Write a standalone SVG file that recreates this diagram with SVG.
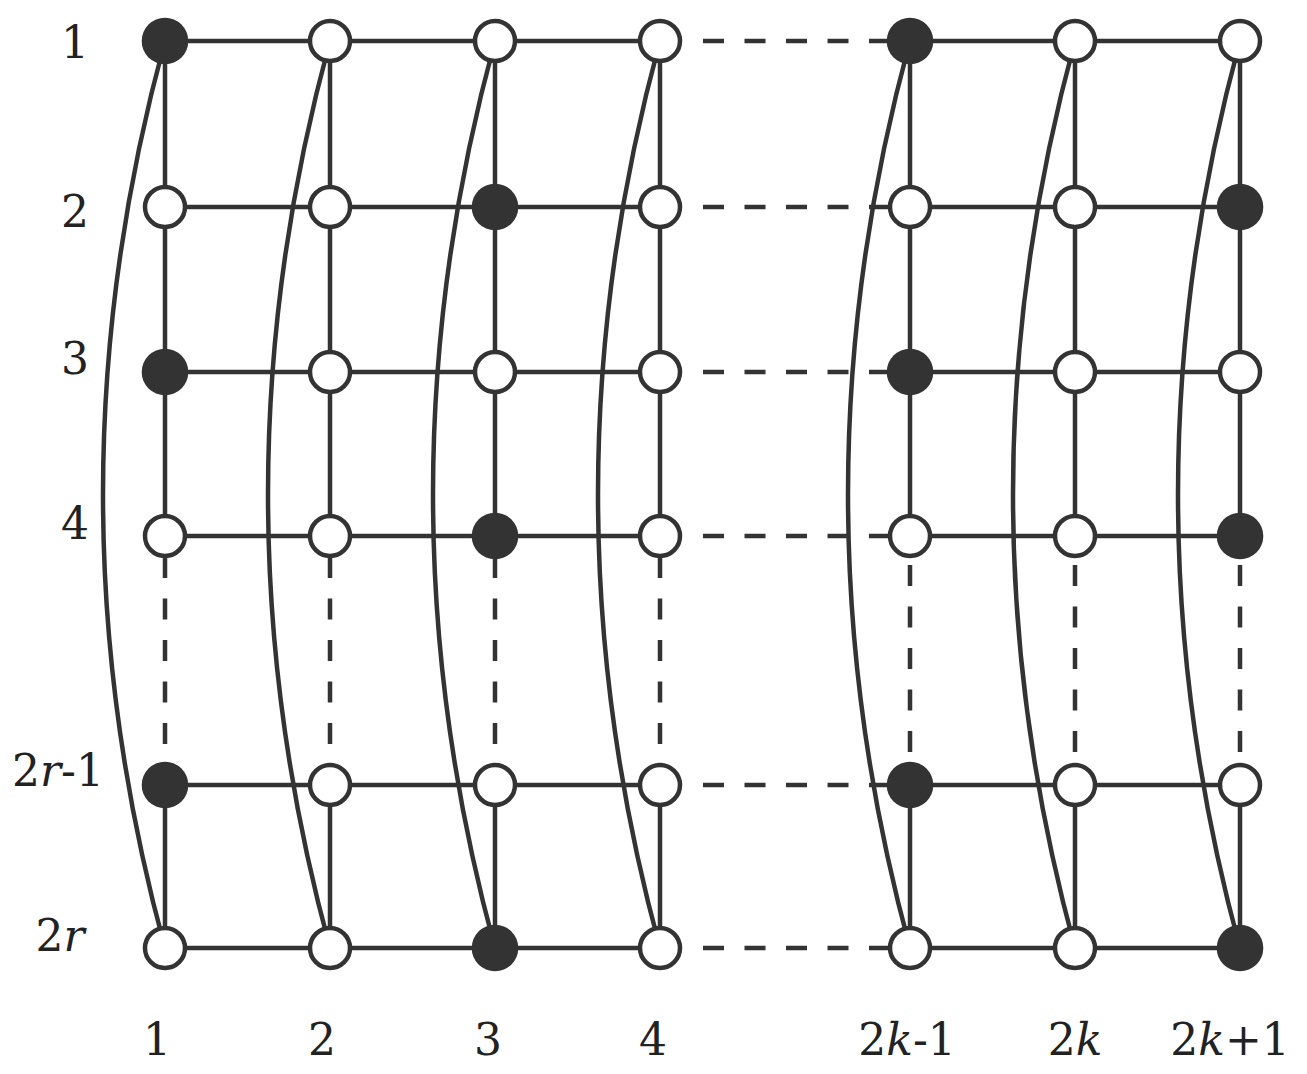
<svg xmlns="http://www.w3.org/2000/svg" width="1307" height="1074" viewBox="0 0 1307 1074">
<style>
.e{stroke:#333;stroke-width:4.5;fill:none}
.d{stroke:#333;stroke-width:4.5;fill:none;stroke-dasharray:21 20.5}
.o{fill:#fff;stroke:#333;stroke-width:4.5}
.f{fill:#333}
.t{font-family:"DejaVu Serif",serif;font-size:44px;fill:#222;text-anchor:middle}
</style>
<rect width="1307" height="1074" fill="#fff"/>
<g id="connectors">
<path class="e" d="M165,41 Q41,494.5 165,948"/>
<path class="e" d="M330,41 Q206,494.5 330,948"/>
<path class="e" d="M495,41 Q371,494.5 495,948"/>
<path class="e" d="M660,41 Q536,494.5 660,948"/>
<path class="e" d="M910,41 Q786,494.5 910,948"/>
<path class="e" d="M1075,41 Q951,494.5 1075,948"/>
<path class="e" d="M1240,41 Q1116,494.5 1240,948"/>
<line class="e" x1="165" y1="41" x2="330" y2="41"/><line class="e" x1="330" y1="41" x2="495" y2="41"/><line class="e" x1="495" y1="41" x2="660" y2="41"/><line class="d" x1="703" y1="41" x2="890" y2="41"/><line class="e" x1="910" y1="41" x2="1075" y2="41"/><line class="e" x1="1075" y1="41" x2="1240" y2="41"/>
<line class="e" x1="165" y1="207" x2="330" y2="207"/><line class="e" x1="330" y1="207" x2="495" y2="207"/><line class="e" x1="495" y1="207" x2="660" y2="207"/><line class="d" x1="703" y1="207" x2="890" y2="207"/><line class="e" x1="910" y1="207" x2="1075" y2="207"/><line class="e" x1="1075" y1="207" x2="1240" y2="207"/>
<line class="e" x1="165" y1="372" x2="330" y2="372"/><line class="e" x1="330" y1="372" x2="495" y2="372"/><line class="e" x1="495" y1="372" x2="660" y2="372"/><line class="d" x1="703" y1="372" x2="890" y2="372"/><line class="e" x1="910" y1="372" x2="1075" y2="372"/><line class="e" x1="1075" y1="372" x2="1240" y2="372"/>
<line class="e" x1="165" y1="536" x2="330" y2="536"/><line class="e" x1="330" y1="536" x2="495" y2="536"/><line class="e" x1="495" y1="536" x2="660" y2="536"/><line class="d" x1="703" y1="536" x2="890" y2="536"/><line class="e" x1="910" y1="536" x2="1075" y2="536"/><line class="e" x1="1075" y1="536" x2="1240" y2="536"/>
<line class="e" x1="165" y1="785" x2="330" y2="785"/><line class="e" x1="330" y1="785" x2="495" y2="785"/><line class="e" x1="495" y1="785" x2="660" y2="785"/><line class="d" x1="703" y1="785" x2="890" y2="785"/><line class="e" x1="910" y1="785" x2="1075" y2="785"/><line class="e" x1="1075" y1="785" x2="1240" y2="785"/>
<line class="e" x1="165" y1="948" x2="330" y2="948"/><line class="e" x1="330" y1="948" x2="495" y2="948"/><line class="e" x1="495" y1="948" x2="660" y2="948"/><line class="d" x1="703" y1="948" x2="890" y2="948"/><line class="e" x1="910" y1="948" x2="1075" y2="948"/><line class="e" x1="1075" y1="948" x2="1240" y2="948"/>
<line class="e" x1="165" y1="41" x2="165" y2="207"/><line class="e" x1="165" y1="207" x2="165" y2="372"/><line class="e" x1="165" y1="372" x2="165" y2="536"/><line class="d" x1="165" y1="557" x2="165" y2="765"/><line class="e" x1="165" y1="785" x2="165" y2="948"/>
<line class="e" x1="330" y1="41" x2="330" y2="207"/><line class="e" x1="330" y1="207" x2="330" y2="372"/><line class="e" x1="330" y1="372" x2="330" y2="536"/><line class="d" x1="330" y1="557" x2="330" y2="765"/><line class="e" x1="330" y1="785" x2="330" y2="948"/>
<line class="e" x1="495" y1="41" x2="495" y2="207"/><line class="e" x1="495" y1="207" x2="495" y2="372"/><line class="e" x1="495" y1="372" x2="495" y2="536"/><line class="d" x1="495" y1="557" x2="495" y2="765"/><line class="e" x1="495" y1="785" x2="495" y2="948"/>
<line class="e" x1="660" y1="41" x2="660" y2="207"/><line class="e" x1="660" y1="207" x2="660" y2="372"/><line class="e" x1="660" y1="372" x2="660" y2="536"/><line class="d" x1="660" y1="557" x2="660" y2="765"/><line class="e" x1="660" y1="785" x2="660" y2="948"/>
<line class="e" x1="910" y1="41" x2="910" y2="207"/><line class="e" x1="910" y1="207" x2="910" y2="372"/><line class="e" x1="910" y1="372" x2="910" y2="536"/><line class="d" x1="910" y1="565" x2="910" y2="765"/><line class="e" x1="910" y1="785" x2="910" y2="948"/>
<line class="e" x1="1075" y1="41" x2="1075" y2="207"/><line class="e" x1="1075" y1="207" x2="1075" y2="372"/><line class="e" x1="1075" y1="372" x2="1075" y2="536"/><line class="d" x1="1075" y1="565" x2="1075" y2="765"/><line class="e" x1="1075" y1="785" x2="1075" y2="948"/>
<line class="e" x1="1240" y1="41" x2="1240" y2="207"/><line class="e" x1="1240" y1="207" x2="1240" y2="372"/><line class="e" x1="1240" y1="372" x2="1240" y2="536"/><line class="d" x1="1240" y1="565" x2="1240" y2="765"/><line class="e" x1="1240" y1="785" x2="1240" y2="948"/>
</g>
<g id="nodes">
<g id="n1-1"><circle class="f" cx="165" cy="41" r="23.3"/></g>
<g id="n1-2"><circle class="o" cx="330" cy="41" r="20"/></g>
<g id="n1-3"><circle class="o" cx="495" cy="41" r="20"/></g>
<g id="n1-4"><circle class="o" cx="660" cy="41" r="20"/></g>
<g id="n1-5"><circle class="f" cx="910" cy="41" r="23.3"/></g>
<g id="n1-6"><circle class="o" cx="1075" cy="41" r="20"/></g>
<g id="n1-7"><circle class="o" cx="1240" cy="41" r="20"/></g>
<g id="n2-1"><circle class="o" cx="165" cy="207" r="20"/></g>
<g id="n2-2"><circle class="o" cx="330" cy="207" r="20"/></g>
<g id="n2-3"><circle class="f" cx="495" cy="207" r="23.3"/></g>
<g id="n2-4"><circle class="o" cx="660" cy="207" r="20"/></g>
<g id="n2-5"><circle class="o" cx="910" cy="207" r="20"/></g>
<g id="n2-6"><circle class="o" cx="1075" cy="207" r="20"/></g>
<g id="n2-7"><circle class="f" cx="1240" cy="207" r="23.3"/></g>
<g id="n3-1"><circle class="f" cx="165" cy="372" r="23.3"/></g>
<g id="n3-2"><circle class="o" cx="330" cy="372" r="20"/></g>
<g id="n3-3"><circle class="o" cx="495" cy="372" r="20"/></g>
<g id="n3-4"><circle class="o" cx="660" cy="372" r="20"/></g>
<g id="n3-5"><circle class="f" cx="910" cy="372" r="23.3"/></g>
<g id="n3-6"><circle class="o" cx="1075" cy="372" r="20"/></g>
<g id="n3-7"><circle class="o" cx="1240" cy="372" r="20"/></g>
<g id="n4-1"><circle class="o" cx="165" cy="536" r="20"/></g>
<g id="n4-2"><circle class="o" cx="330" cy="536" r="20"/></g>
<g id="n4-3"><circle class="f" cx="495" cy="536" r="23.3"/></g>
<g id="n4-4"><circle class="o" cx="660" cy="536" r="20"/></g>
<g id="n4-5"><circle class="o" cx="910" cy="536" r="20"/></g>
<g id="n4-6"><circle class="o" cx="1075" cy="536" r="20"/></g>
<g id="n4-7"><circle class="f" cx="1240" cy="536" r="23.3"/></g>
<g id="n5-1"><circle class="f" cx="165" cy="785" r="23.3"/></g>
<g id="n5-2"><circle class="o" cx="330" cy="785" r="20"/></g>
<g id="n5-3"><circle class="o" cx="495" cy="785" r="20"/></g>
<g id="n5-4"><circle class="o" cx="660" cy="785" r="20"/></g>
<g id="n5-5"><circle class="f" cx="910" cy="785" r="23.3"/></g>
<g id="n5-6"><circle class="o" cx="1075" cy="785" r="20"/></g>
<g id="n5-7"><circle class="o" cx="1240" cy="785" r="20"/></g>
<g id="n6-1"><circle class="o" cx="165" cy="948" r="20"/></g>
<g id="n6-2"><circle class="o" cx="330" cy="948" r="20"/></g>
<g id="n6-3"><circle class="f" cx="495" cy="948" r="23.3"/></g>
<g id="n6-4"><circle class="o" cx="660" cy="948" r="20"/></g>
<g id="n6-5"><circle class="o" cx="910" cy="948" r="20"/></g>
<g id="n6-6"><circle class="o" cx="1075" cy="948" r="20"/></g>
<g id="n6-7"><circle class="f" cx="1240" cy="948" r="23.3"/></g>
</g>
<g id="labels">
<text class="t" x="75" y="58">1</text>
<text class="t" x="75" y="227">2</text>
<text class="t" x="75" y="374">3</text>
<text class="t" x="75" y="539">4</text>
<text class="t" x="58" y="786">2<tspan font-style="italic">r</tspan>-1</text>
<text class="t" x="60" y="951">2<tspan font-style="italic">r</tspan></text>
<text class="t" x="157" y="1055">1</text>
<text class="t" x="322" y="1055">2</text>
<text class="t" x="488" y="1055">3</text>
<text class="t" x="653" y="1055">4</text>
<text class="t" x="907" y="1055">2<tspan font-style="italic">k</tspan>-1</text>
<text class="t" x="1075" y="1055">2<tspan font-style="italic">k</tspan></text>
<text class="t" x="1230" y="1055">2<tspan font-style="italic">k</tspan>+1</text>
</g>
</svg>
